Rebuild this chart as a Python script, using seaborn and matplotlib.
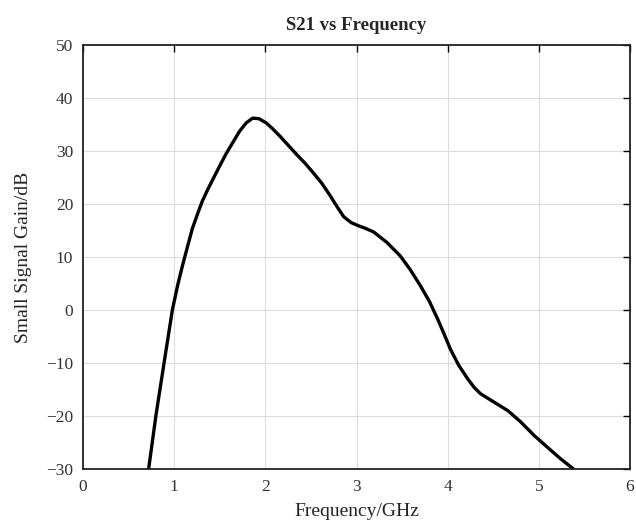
import numpy as np
import pandas as pd
import seaborn as sns
import matplotlib
matplotlib.use("Agg")
import matplotlib.pyplot as plt

# 数据
freq_ghz = [0.72, 0.80, 0.89, 0.98, 1.04, 1.09, 1.15, 1.20, 1.26, 1.31, 1.37, 1.42,
            1.50, 1.57, 1.65, 1.72, 1.79, 1.86, 1.93, 2.01, 2.08, 2.16, 2.25, 2.34,
            2.43, 2.52, 2.62, 2.71, 2.79, 2.86, 2.94, 3.02, 3.10, 3.19, 3.33, 3.48,
            3.59, 3.70, 3.80, 3.89, 3.96, 4.03, 4.12, 4.22, 4.29, 4.36, 4.51, 4.66,
            4.80, 4.95, 5.10, 5.24, 5.38]
s21_db = [-30.0, -19.9, -9.9, 0.0, 4.8, 8.3, 12.2, 15.4, 18.3, 20.6, 22.8, 24.5,
          27.2, 29.5, 31.8, 33.8, 35.3, 36.2, 36.1, 35.3, 34.2, 32.8, 31.1, 29.4,
          27.8, 26.0, 23.9, 21.6, 19.4, 17.6, 16.5, 15.9, 15.4, 14.7, 12.8, 10.2,
          7.6, 4.6, 1.6, -1.7, -4.5, -7.4, -10.4, -13.0, -14.6, -15.8, -17.4, -19.0,
          -21.1, -23.7, -26.0, -28.1, -30.0]

df = pd.DataFrame({"freq": freq_ghz, "s21": s21_db})

sns.set_style("white")
plt.rcParams['font.family'] = ['Liberation Serif', 'DejaVu Serif']
plt.rcParams['mathtext.fontset'] = 'stix'

fig = plt.figure(figsize=(6.36, 5.26), dpi=100)
ax = fig.add_axes([0.1305, 0.1084, 0.8601, 0.806])

sns.lineplot(data=df, x="freq", y="s21", ax=ax, color="black", linewidth=2.4,
             sort=False, estimator=None, solid_joinstyle="round", solid_capstyle="round")

ax.set_xlim(0, 6)
ax.set_ylim(-30, 50)
ax.set_xticks(range(0, 7))
ax.set_yticks(range(-30, 51, 10))
ax.grid(True, color="#dcdcdc", linewidth=0.8)
ax.tick_params(direction="in", length=5, width=1, top=True, right=True,
               labelsize=12.5, colors="black", labelcolor="#333333", pad=7)
for sp in ax.spines.values():
    sp.set_visible(True)
    sp.set_color("#222222")
    sp.set_linewidth(1.3)

ax.set_xlabel("Frequency/GHz", fontsize=14, labelpad=6, color="#222222")
ax.set_ylabel("Small Signal Gain/dB", fontsize=14, labelpad=10, color="#222222")
ax.set_title("S21 vs Frequency", fontsize=13.5, fontweight="bold", pad=11)

fig.savefig("out.png", dpi=100)
